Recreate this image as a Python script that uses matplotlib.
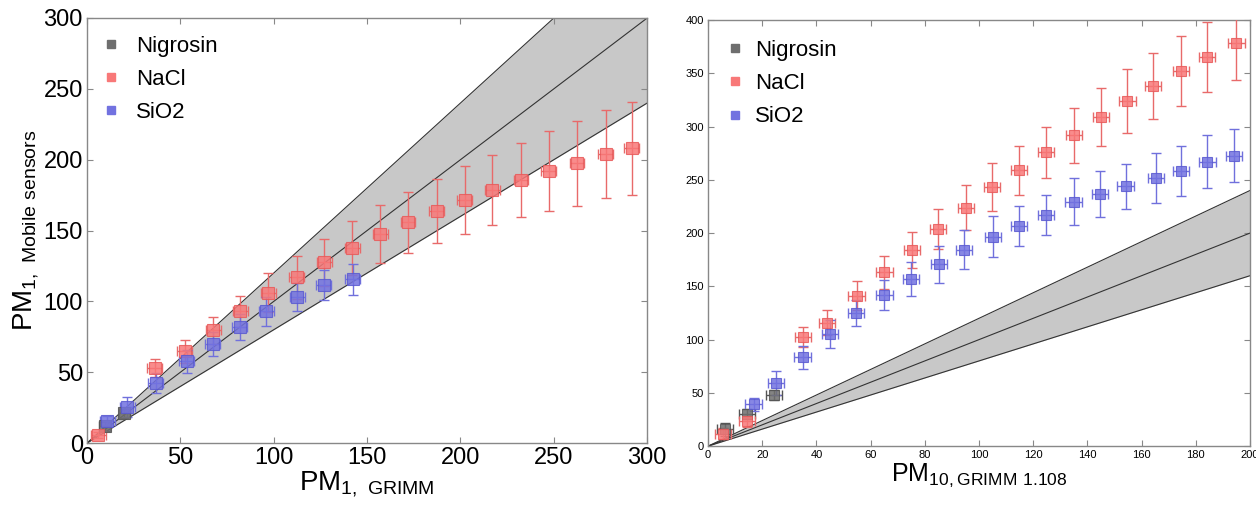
import numpy as np
import matplotlib
matplotlib.use('Agg')
import matplotlib.pyplot as plt

plt.rcParams['font.family'] = ['Liberation Sans', 'DejaVu Sans']
plt.rcParams['mathtext.default'] = 'regular'

# ---- left panel: PM1 ----
pm1_nig_x = [9.5, 20.0]
pm1_nig_y = [11.7, 21.0]
pm1_nig_err = [3, 3]

pm1_nacl_x = [6.1, 36.3, 52.4, 67.6, 82.1, 97.0, 112.2, 127.0, 142.0, 157.0,
              171.9, 187.3, 202.3, 217.0, 232.4, 247.2, 262.4, 277.8, 291.8]
pm1_nacl_y = [5.9, 53.1, 64.8, 79.6, 92.9, 106.2, 117.0, 127.5, 137.8, 147.4,
              155.9, 163.6, 171.5, 178.6, 185.8, 192.1, 197.5, 204.1, 208.0]
pm1_nacl_err = [2, 6.5, 8, 9.5, 11, 14, 15, 16.5, 19, 20.5,
                21.5, 22.6, 24, 24.5, 26, 28, 30, 31, 33]

pm1_sio2_x = [10.9, 21.5, 36.7, 53.5, 67.3, 81.9, 95.9, 112.7, 126.8, 142.2]
pm1_sio2_y = [15.9, 25.7, 42.6, 57.8, 70.2, 81.9, 92.9, 103.0, 111.4, 115.6]
pm1_sio2_err = [3, 7, 7, 8, 8.5, 9.5, 10, 10, 10.5, 11]

# ---- right panel: PM10 ----
pm10_nig_x = [6.2, 14.4, 24.3]
pm10_nig_y = [15.9, 30.3, 48.1]
pm10_nig_err = [6, 5, 5]

pm10_nacl_x = [5.4, 14.4, 35.1, 43.8, 54.8, 65.1, 75.3, 84.9, 95.1, 104.9,
               114.8, 124.7, 135.0, 145.0, 154.8, 164.3, 174.5, 184.1, 195.0]
pm10_nacl_y = [11.6, 23.4, 102.5, 115.9, 141.3, 163.1, 184.4, 203.8, 223.8, 243.1,
               258.8, 275.9, 291.9, 308.8, 324.1, 338.4, 352.2, 365.3, 378.4]
pm10_nacl_err = [5, 5, 9, 11.5, 13.5, 15.5, 17, 19, 21, 22.5,
                 23, 24, 26, 27.5, 30, 31, 32.5, 33, 35]

pm10_sio2_x = [16.8, 25.0, 34.9, 44.9, 54.7, 65.1, 74.9, 85.2, 94.6, 105.2,
               114.8, 124.7, 134.9, 144.6, 154.1, 165.4, 174.6, 184.3, 194.0]
pm10_sio2_y = [39.4, 59.4, 83.4, 105.3, 125.0, 141.9, 157.2, 170.6, 184.4, 196.6,
               206.9, 216.9, 229.4, 236.9, 243.8, 251.3, 258.4, 267.2, 272.8]
pm10_sio2_err = [6, 11, 11, 13, 12.5, 14, 16, 17, 18.5, 19,
                 19, 19, 22, 21.5, 21.5, 23.5, 23.5, 24.5, 25]

band_slopes = [0.8, 1.0, 1.2]

styles = {
    'Nigrosin': dict(face='#6e6e6e', edge='#555555', err='#555555'),
    'NaCl': dict(face='#f87878', edge='#e85a5a', err='#e86a6a'),
    'SiO2': dict(face='#7272e0', edge='#5a5ad0', err='#7070dc'),
}


def draw_band(ax, xmax):
    xs = np.array([0, xmax])
    lo, mid, hi = band_slopes
    ax.fill_between(xs, lo * xs, hi * xs, color='#c8c8c8', lw=0, zorder=1)
    for s in band_slopes:
        ax.plot(xs, s * xs, color='#333333', lw=0.8, zorder=2)


def draw_series(ax, x, y, yerr, name, ms, xerr):
    st = styles[name]
    ax.errorbar(x, y, yerr=yerr, xerr=xerr, fmt='none',
                ecolor=st['err'], elinewidth=1, capsize=3.5, capthick=1,
                zorder=3)
    ax.plot(x, y, 's', ms=ms, mfc=st['face'], mec=st['edge'], mew=0.8,
            alpha=0.85, zorder=4)
    # proxy marker for legend
    ax.plot([], [], 's', ms=6, color=st['face'], label=name)


def style_axes(ax, labelsize):
    for sp in ax.spines.values():
        sp.set_color('#888888')
        sp.set_linewidth(1)
    ax.tick_params(direction='in', top=True, right=True, length=4,
                   color='#888888', labelsize=labelsize, pad=3)


fig = plt.figure(figsize=(12.56, 5.14), dpi=100)
ax1 = fig.add_axes([0.0693, 0.138, 0.446, 0.827])
ax2 = fig.add_axes([0.5637, 0.132, 0.4315, 0.829])

# left
draw_band(ax1, 300)
draw_series(ax1, pm1_nig_x, pm1_nig_y, pm1_nig_err, 'Nigrosin', 9, 3)
draw_series(ax1, pm1_nacl_x, pm1_nacl_y, pm1_nacl_err, 'NaCl', 9, 4)
draw_series(ax1, pm1_sio2_x, pm1_sio2_y, pm1_sio2_err, 'SiO2', 9, 4)
ax1.set_xlim(0, 300)
ax1.set_ylim(0, 300)
ax1.set_xticks(np.arange(0, 301, 50))
ax1.set_yticks(np.arange(0, 301, 50))
style_axes(ax1, 17)
ax1.set_xlabel('$PM_{1,\\ GRIMM}$', fontsize=20, labelpad=0)
ax1.set_ylabel('$PM_{1,\\ Mobile\\ sensors}$', fontsize=20, labelpad=2)
ax1.legend(loc='upper left', frameon=False, fontsize=16, handlelength=0.6,
           handletextpad=0.8, labelspacing=0.55, borderaxespad=0.5,
           borderpad=0.3)

# right
draw_band(ax2, 200)
draw_series(ax2, pm10_nig_x, pm10_nig_y, pm10_nig_err, 'Nigrosin', 6.5, 3)
draw_series(ax2, pm10_nacl_x, pm10_nacl_y, pm10_nacl_err, 'NaCl', 6.5, 3)
draw_series(ax2, pm10_sio2_x, pm10_sio2_y, pm10_sio2_err, 'SiO2', 6.5, 3)
ax2.set_xlim(0, 200)
ax2.set_ylim(0, 400)
ax2.set_xticks(np.arange(0, 201, 20))
ax2.set_yticks(np.arange(0, 401, 50))
style_axes(ax2, 8)
ax2.set_xlabel('$PM_{10,GRIMM\\ 1.108}$', fontsize=18, labelpad=1)
ax2.legend(loc='upper left', frameon=False, fontsize=16, handlelength=0.6,
           handletextpad=0.6, labelspacing=0.55, borderaxespad=0.6,
           borderpad=0.3)

fig.savefig('out.png', dpi=100)
